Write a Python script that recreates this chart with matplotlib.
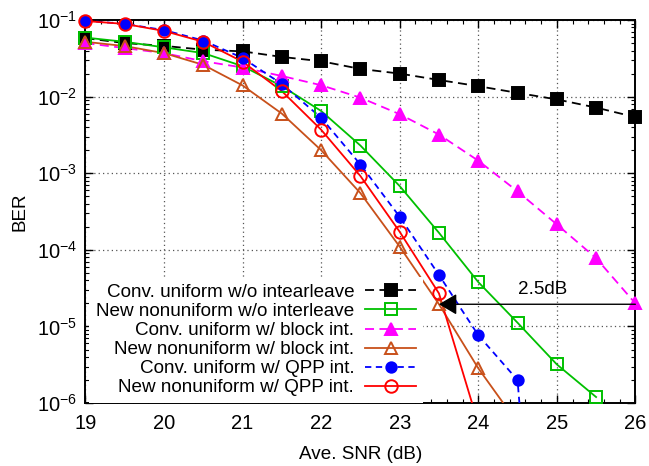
import matplotlib
matplotlib.use('Agg')
import matplotlib.pyplot as plt
import numpy as np
from matplotlib.ticker import MultipleLocator, LogLocator

plt.rcParams['font.family'] = ['Liberation Sans', 'DejaVu Sans']
plt.rcParams['mathtext.fontset'] = 'custom'
plt.rcParams['mathtext.rm'] = 'Liberation Sans'

snr = [19, 19.5, 20, 20.5, 21, 21.5, 22, 22.5, 23, 23.5, 24, 24.5, 25, 25.5, 26]

conv_wo = [5.8e-2, 5.0e-2, 4.6e-2, 4.1e-2, 3.9e-2, 3.3e-2, 2.9e-2, 2.3e-2,
           2.0e-2, 1.65e-2, 1.37e-2, 1.12e-2, 9.2e-3, 7.2e-3, 5.4e-3]
new_wo = [5.9e-2, 5.2e-2, 4.4e-2, 3.7e-2, 2.5e-2, 1.37e-2, 6.5e-3, 2.3e-3,
          6.8e-4, 1.67e-4, 3.8e-5, 1.12e-5, 3.2e-6, 1.2e-6]
conv_block = [5.0e-2, 4.3e-2, 3.7e-2, 2.9e-2, 2.4e-2, 1.86e-2, 1.41e-2, 9.7e-3,
              5.9e-3, 3.2e-3, 1.46e-3, 5.8e-4, 2.15e-4, 7.8e-5, 2.0e-5]
new_block = [5.2e-2, 4.57e-2, 3.7e-2, 2.6e-2, 1.4e-2, 6.0e-3, 2.0e-3, 5.5e-4,
             1.1e-4, 1.95e-5, 2.85e-6, 5.5e-7]
conv_qpp = [9.8e-2, 8.9e-2, 7.4e-2, 5.4e-2, 3.2e-2, 1.46e-2, 5.3e-3, 1.3e-3,
            2.7e-4, 4.7e-5, 7.7e-6, 2.0e-6, 1e-12]
new_qpp = [9.7e-2, 8.9e-2, 7.2e-2, 5.2e-2, 2.86e-2, 1.18e-2, 3.7e-3, 9.2e-4,
           1.72e-4, 2.7e-5, 5.4e-7]

series = [
    ('Conv. uniform w/o intearleave', conv_wo, 'black', (0, (5, 3)), 's', 'black', 8.5),
    ('New nonuniform w/o interleave', new_wo, '#00c000', '-', 's', 'none', 9),
    ('Conv. uniform w/ block int.', conv_block, '#ff00ff', (0, (5, 3)), '^', '#ff00ff', 8),
    ('New nonuniform w/ block int.', new_block, '#c8501a', '-', '^', 'none', 9),
    ('Conv. uniform w/ QPP int.', conv_qpp, '#0000ff', (0, (3.5, 2.5)), 'o', '#0000ff', 7.5),
    ('New nonuniform w/ QPP int.', new_qpp, '#ff0000', '-', 'o', 'none', 9),
]

ymin, ymax = 1e-6, 1e-1
fs = 13.6

fig, ax = plt.subplots(figsize=(6.49, 4.66), dpi=100)
fig.subplots_adjust(left=0.1317, right=0.979, top=0.957, bottom=0.135)

handles = []
for label, vals, color, ls, marker, mfc, ms in series:
    x = np.array(snr[:len(vals)])
    y = np.array(vals)
    ax.plot(x, y, color=color, ls=ls, lw=1.3, zorder=3)
    inside = y >= ymin * 0.999
    ax.plot(x[inside], y[inside], ls='none', marker=marker, ms=ms, mfc=mfc,
            mec=color, mew=1.4, clip_on=False, zorder=4)
    h, = ax.plot([], [], color=color, ls=ls, lw=1.3, marker=marker, ms=ms,
                 mfc=mfc, mec=color, mew=1.4, markevery=[1])
    handles.append(h)

# 2.5 dB arrow
ax.annotate('', xy=(23.5, 1.95e-5), xytext=(26, 1.95e-5),
            arrowprops=dict(arrowstyle='-|>,head_length=1.1,head_width=0.65',
                            color='black', lw=1.0, shrinkA=0, shrinkB=0),
            zorder=5)
ax.text(24.82, 3.0e-5, '2.5dB', fontsize=fs, ha='center', va='center')

ax.set_yscale('log')
ax.set_xlim(19, 26)
ax.set_ylim(ymin, ymax)
ax.xaxis.set_major_locator(MultipleLocator(1))
ax.xaxis.set_minor_locator(MultipleLocator(0.2))
ax.yaxis.set_major_locator(LogLocator(base=10, numticks=10))
ax.yaxis.set_minor_locator(LogLocator(base=10, subs=np.arange(2, 10), numticks=10))
ax.tick_params(which='both', direction='in', top=True, right=True, labelsize=14.5)
ax.tick_params(which='major', length=6, width=1)
ax.tick_params(which='minor', length=3, width=0.8)
ax.tick_params(axis='x', pad=8)
ax.tick_params(axis='y', pad=6)
ax.grid(which='major', color='#555555', ls=(0, (1, 2.5)), lw=0.9)
for s in ax.spines.values():
    s.set_linewidth(1.4)

ax.set_xlabel('Ave. SNR (dB)', fontsize=fs, labelpad=9)
ax.set_ylabel('BER', fontsize=fs, labelpad=6)

leg = ax.legend(handles, [s[0] for s in series], loc='lower right',
                bbox_to_anchor=(0.614, 0.0), markerfirst=False, frameon=True,
                fancybox=False, edgecolor='none', facecolor='white', framealpha=1,
                fontsize=fs, handlelength=2.7, handletextpad=0.6,
                labelspacing=0.1, borderpad=0.35, borderaxespad=0.0)
leg.set_zorder(6)

fig.savefig('out.png', dpi=100)
plt.close(fig)
